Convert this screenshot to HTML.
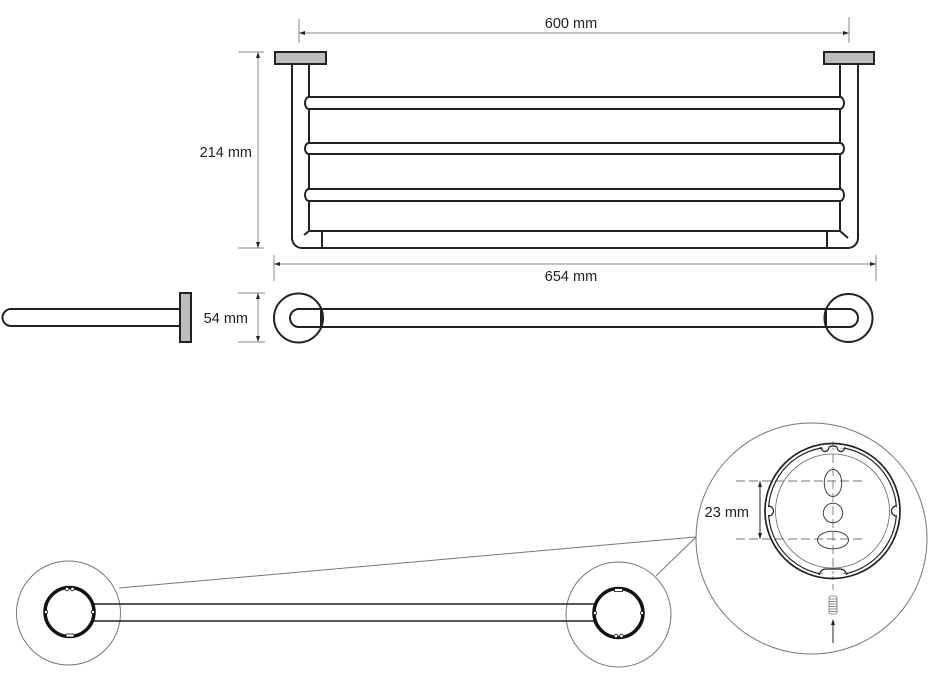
<!DOCTYPE html>
<html><head><meta charset="utf-8"><style>
html,body{margin:0;padding:0;background:#fff;}
svg{display:block;}
text{font-family:"Liberation Sans",Arial,sans-serif;font-size:14.5px;fill:#222;}
</style></head><body>
<svg width="928" height="686" viewBox="0 0 928 686" xmlns="http://www.w3.org/2000/svg">
<rect width="928" height="686" fill="#fff"/>
<g stroke="#8a8a8a" stroke-width="1" fill="none">
  <!-- 600 dim -->
  <line x1="299" y1="19" x2="299" y2="43"/>
  <line x1="849" y1="17" x2="849" y2="43"/>
  <line x1="299" y1="33" x2="849" y2="33"/>
  <!-- 214 dim -->
  <line x1="238" y1="52" x2="264" y2="52"/>
  <line x1="238" y1="248" x2="264" y2="248"/>
  <line x1="258" y1="52" x2="258" y2="248"/>
  <!-- 654 dim -->
  <line x1="274" y1="255" x2="274" y2="281"/>
  <line x1="876" y1="255" x2="876" y2="281"/>
  <line x1="274" y1="264" x2="876" y2="264"/>
  <!-- 54 dim -->
  <line x1="238" y1="293" x2="265" y2="293"/>
  <line x1="238" y1="342" x2="265" y2="342"/>
  <line x1="258" y1="293" x2="258" y2="342"/>
</g>
<g fill="#222">
  <polygon points="299,33 305,31 305,35"/>
  <polygon points="849,33 843,31 843,35"/>
  <polygon points="258,52 256,58 260,58"/>
  <polygon points="258,248 256,242 260,242"/>
  <polygon points="274,264 280,262 280,266"/>
  <polygon points="876,264 870,262 870,266"/>
  <polygon points="258,293 256,299 260,299"/>
  <polygon points="258,342 256,336 260,336"/>
</g>
<text x="571" y="28" text-anchor="middle">600 mm</text>
<text x="252" y="157" text-anchor="end">214 mm</text>
<text x="571" y="281" text-anchor="middle">654 mm</text>
<text x="248" y="323" text-anchor="end">54 mm</text>

<!-- front view -->
<g stroke="#222" stroke-width="2" fill="none">
  <path d="M292,64 V238 A10,10 0 0 0 302,248 H848 A10,10 0 0 0 858,238 V64"/>
  <line x1="309" y1="64" x2="309" y2="231"/>
  <line x1="840" y1="64" x2="840" y2="231"/>
  <line x1="309" y1="231" x2="840" y2="231"/>
  <line x1="322" y1="231" x2="322" y2="248"/>
  <line x1="827" y1="231" x2="827" y2="248"/>
  <line x1="309" y1="231" x2="304" y2="235"/>
  <line x1="840" y1="231" x2="848" y2="238"/>
  <path fill="#fff" d="M309,97 H840 A4,6 0 0 1 840,109 H309 A4,6 0 0 1 309,97 Z"/>
  <path fill="#fff" d="M309,143 H840 A4,5.5 0 0 1 840,154 H309 A4,5.5 0 0 1 309,143 Z"/>
  <path fill="#fff" d="M309,189 H840 A4,6 0 0 1 840,201 H309 A4,6 0 0 1 309,189 Z"/>
  <rect x="275" y="52" width="51" height="12" fill="#bdbdbd"/>
  <rect x="824" y="52" width="50" height="12" fill="#bdbdbd"/>
</g>

<!-- side view -->
<g stroke="#222" stroke-width="2" fill="none">
  <path d="M180,309 H11 A8.5,8.5 0 0 0 11,326 H180"/>
  <rect x="180" y="293" width="11" height="49" fill="#bdbdbd"/>
</g>

<!-- top view -->
<g stroke="#222" stroke-width="2" fill="none">
  <circle cx="298.5" cy="318" r="24.5"/>
  <circle cx="848.5" cy="318" r="24"/>
  <path d="M299,309 H849 A9,9 0 0 1 849,327 H299 A9,9 0 0 1 299,309 Z"/>
  <line x1="321" y1="309" x2="321" y2="327"/>
  <line x1="826" y1="309" x2="826" y2="327"/>
</g>

<!-- bottom view -->
<g stroke="#777" stroke-width="1" fill="none">
  <circle cx="68.5" cy="613" r="52"/>
  <circle cx="618.5" cy="614.5" r="52.5"/>
  <circle cx="811.5" cy="538.5" r="115.5"/>
  <line x1="119" y1="588" x2="696" y2="537"/>
  <line x1="656" y1="576" x2="696" y2="537"/>
</g>
<g stroke="#222" stroke-width="1.6" fill="none">
  <line x1="94" y1="604" x2="594" y2="604"/>
  <line x1="94" y1="621" x2="594" y2="621"/>
</g>
<g stroke="#111" stroke-width="3.5" fill="none">
  <circle cx="69.5" cy="612" r="24.5"/>
  <circle cx="618.5" cy="613" r="24.5"/>
</g>
<g stroke="#111" stroke-width="0.8" fill="#fff">
  <circle cx="67" cy="589" r="1.8"/>
  <circle cx="72.5" cy="589" r="1.8"/>
  <circle cx="46" cy="612" r="1.6"/>
  <circle cx="93" cy="612" r="1.6"/>
  <rect x="66" y="634" width="8" height="3"/>
  <rect x="614.5" y="588.5" width="8" height="3"/>
  <circle cx="616" cy="636" r="1.8"/>
  <circle cx="621.5" cy="636" r="1.8"/>
  <circle cx="595" cy="613" r="1.6"/>
  <circle cx="642" cy="613" r="1.6"/>
</g>

<!-- detail -->
<g stroke="#777" stroke-width="0.9" fill="none" stroke-dasharray="9 4">
  <line x1="736" y1="481" x2="866" y2="481"/>
  <line x1="736" y1="539" x2="866" y2="539"/>
  <line x1="833" y1="441" x2="833" y2="590"/>
</g>
<g stroke="#222" fill="none">
  <circle cx="832.5" cy="511" r="67.5" stroke-width="1.7"/>
  <circle cx="832.5" cy="511" r="64" stroke-width="1.2"/>
  <circle cx="832.5" cy="511" r="57" stroke="#666" stroke-width="0.8"/>
</g>
<g stroke="#fff" stroke-width="2.2">
  <line x1="768.5" y1="507" x2="768.5" y2="515"/>
  <line x1="896.5" y1="507" x2="896.5" y2="515"/>
  <line x1="822" y1="447" x2="845" y2="447"/>
  <line x1="820" y1="575" x2="846" y2="575"/>
</g>
<g stroke="#222" stroke-width="1.2" fill="none">
  <path d="M768.5,506 A5,5 0 0 1 768.5,516"/>
  <path d="M896.5,506 A5,5 0 0 0 896.5,516"/>
  <path d="M821,447 A4,4.5 0 0 0 829,447 Q833,445 837,447 A4,4.5 0 0 0 845,447"/>
  <path d="M819,575 Q821,569 826,569 H840 Q845,569 847,575"/>
</g>
<g stroke="#444" stroke-width="1" fill="none">
  <ellipse cx="833" cy="483" rx="8.7" ry="13.5"/>
  <circle cx="833" cy="513" r="9.7"/>
  <ellipse cx="833" cy="540" rx="15.5" ry="8.8"/>
</g>
<g stroke="#222" stroke-width="1" fill="none">
  <line x1="760" y1="481" x2="760" y2="539"/>
  <line x1="833" y1="621" x2="833" y2="643"/>
</g>
<g fill="#222">
  <polygon points="760,481 758,487 762,487"/>
  <polygon points="760,539 758,533 762,533"/>
  <polygon points="833,619 831,625 835,625"/>
</g>
<text x="749" y="517" text-anchor="end">23 mm</text>
<g stroke="#777" stroke-width="0.8" fill="none">
  <rect x="829" y="596" width="8" height="18" rx="2"/>
  <line x1="829" y1="599" x2="837" y2="599"/>
  <line x1="829" y1="601.5" x2="837" y2="601.5"/>
  <line x1="829" y1="604" x2="837" y2="604"/>
  <line x1="829" y1="606.5" x2="837" y2="606.5"/>
  <line x1="829" y1="609" x2="837" y2="609"/>
  <line x1="829" y1="611.5" x2="837" y2="611.5"/>
</g>
</svg>
</body></html>
